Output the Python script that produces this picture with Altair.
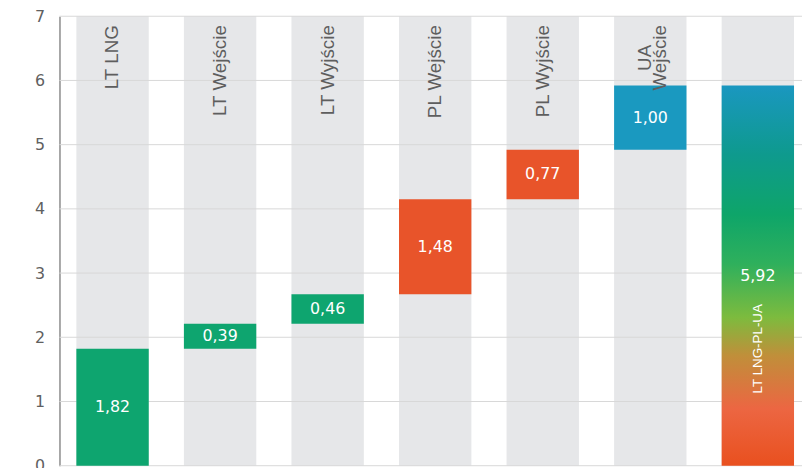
import altair as alt
import pandas as pd

# ---- data ----
categories = ["LT LNG", "LT Wejście", "LT Wyjście", "PL Wejście", "PL Wyjście", "UA Wejście", "LT LNG-PL-UA"]
top_labels = ["LT LNG", "LT Wejście", "LT Wyjście", "PL Wejście", "PL Wyjście", "UA\nWejście", ""]
step_values = [1.82, 0.39, 0.46, 1.48, 0.77, 1.00]
step_groups = ["LT", "LT", "LT", "PL", "PL", "UA"]
total_category = "LT LNG-PL-UA"
total_value = 5.92
y_ticks = [0, 1, 2, 3, 4, 5, 6, 7]

group_domain = ["LT", "PL", "UA"]
group_colors = ["#0ea56f", "#e8542a", "#1a99c0"]

steps = pd.DataFrame({
    "category": categories[:6],
    "value": step_values,
    "group": step_groups,
})
steps["end"] = steps["value"].cumsum()
steps["start"] = steps["end"] - steps["value"]
steps["label"] = [f"{v:.2f}".replace(".", ",") for v in step_values]

bands = pd.DataFrame({"category": categories, "top_label": top_labels})
total = pd.DataFrame({
    "category": [total_category],
    "value": [total_value],
    "label": [f"{total_value:.2f}".replace(".", ",")],
    "name": [total_category],
})
grid = pd.DataFrame({"y": y_ticks})

W, H = 750, 454

xscale = alt.Scale(domain=categories, paddingInner=0.327, paddingOuter=0.157, range=[0, 759])
X = alt.X("category:N", scale=xscale, axis=None, sort=categories)
yscale = alt.Scale(domain=[0, 7], nice=False, zero=True)
yaxis = alt.Axis(values=y_ticks, grid=False, ticks=False, domain=True,
                 domainColor="#8c8c8c", domainWidth=1.5, labelFont="DejaVu Sans",
                 labelFontSize=16, labelColor="#606060", labelPadding=15, title=None)

band_layer = alt.Chart(bands).mark_bar(color="#e6e7e9").encode(
    x=X, y=alt.value(0), y2=alt.value(H)
)

grid_layer = alt.Chart(grid).mark_rule(color="#d8d8d8", strokeWidth=1).encode(
    y=alt.Y("y:Q", scale=yscale, axis=yaxis)
)

step_layer = alt.Chart(steps).mark_bar().encode(
    x=X,
    y=alt.Y("start:Q", scale=yscale, axis=yaxis),
    y2="end:Q",
    color=alt.Color("group:N", scale=alt.Scale(domain=group_domain, range=group_colors), legend=None),
)

gradient = alt.LinearGradient(
    gradient="linear",
    stops=[
        alt.GradientStop(color="#e9501f", offset=0),
        alt.GradientStop(color="#ec6642", offset=0.15),
        alt.GradientStop(color="#c08f3a", offset=0.29),
        alt.GradientStop(color="#7dbb3e", offset=0.39),
        alt.GradientStop(color="#2fb05c", offset=0.53),
        alt.GradientStop(color="#0ea569", offset=0.66),
        alt.GradientStop(color="#0e9a8e", offset=0.82),
        alt.GradientStop(color="#1a97c0", offset=1),
    ],
    x1=0, x2=0, y1=1, y2=0,
)

total_layer = alt.Chart(total).mark_bar(color=gradient).encode(
    x=X,
    y=alt.Y("value:Q", scale=yscale, axis=yaxis),
    y2=alt.datum(0),
)

value_text = alt.Chart(steps).transform_calculate(
    mid="(datum.start + datum.end) / 2"
).mark_text(color="white", font="DejaVu Sans", fontSize=16, baseline="middle").encode(
    x=X, y=alt.Y("mid:Q", scale=yscale, axis=yaxis), text="label:N"
)

total_text = alt.Chart(total).transform_calculate(
    mid="datum.value / 2"
).mark_text(color="white", font="DejaVu Sans", fontSize=16, baseline="middle").encode(
    x=X, y=alt.Y("mid:Q", scale=yscale, axis=yaxis), text="label:N"
)

total_name = alt.Chart(total).mark_text(
    color="white", font="Liberation Sans", fontSize=13.5,
    angle=270, align="left", baseline="middle"
).encode(x=X, y=alt.value(381), text="name:N")

single_labels = alt.Chart(bands).transform_filter(
    "indexof(datum.top_label, '\\n') < 0 && datum.top_label != ''"
).mark_text(
    color="#5e5e5e", font="Liberation Sans", fontSize=19,
    angle=270, align="right", baseline="middle"
).encode(x=X, y=alt.value(9), text="top_label:N")

multi_labels = alt.Chart(bands).transform_filter(
    "indexof(datum.top_label, '\\n') >= 0"
).mark_text(
    color="#5e5e5e", font="Liberation Sans", fontSize=19, lineHeight=15,
    angle=270, align="center", baseline="middle", lineBreak="\n", dy=-5
).encode(x=X, y=alt.value(42), text="top_label:N")

chart = alt.layer(
    band_layer, grid_layer, step_layer, total_layer,
    value_text, total_text, total_name, single_labels, multi_labels
).properties(
    width=W, height=H,
    autosize=alt.AutoSizeParams(type="none"),
    padding={"left": 52, "top": 6, "right": 0, "bottom": 0},
).configure_view(stroke=None)

chart.save("out.html", embed_options={"renderer": "svg", "actions": False})
